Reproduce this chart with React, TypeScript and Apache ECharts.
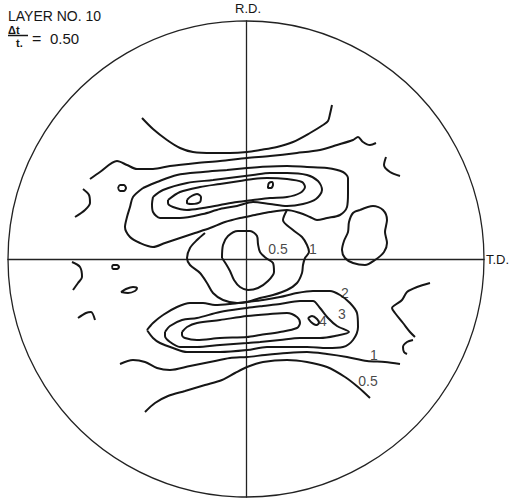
import React, { useEffect, useRef } from "react";
import * as echarts from "echarts";

// Pole-figure coordinates: centre of the projection = (0,0), rim radius = 238 units.
const R = 238;

// ---- upper half ----
const topArc05 = [[-104,141],[-93,130],[-79,119],[-66,111],[-53,107],[-33,106],[-16,106],[1,107],[14,109],[31,112],[47,117],[64,126],[77,134],[82,138],[84,145],[86,154]];
const upperOpen1 = [[-156,80],[-146,87],[-129,98],[-119,94],[-109,90],[-93,90],[-76,93],[-49,96],[-26,98],[1,101],[24,103],[51,106],[74,109],[91,114],[107,119],[112,122],[117,117],[124,114],[130,116]];
const upperRightArc = [[140,102],[138,94],[144,87],[154,83]];
const leftArc = [[-163,70],[-157,64],[-156,56],[-161,49],[-171,42]];
const leftRing = [[-128,71],[-126,74],[-122,74],[-120,71],[-122,68],[-126,68]];
const upperBand1 = [[-103,71],[-89,77],[-69,84],[-43,87],[-19,89],[1,91],[14,92],[41,93],[61,92],[81,91],[97,87],[102,81],[102,66],[101,52],[94,44],[81,41],[71,39],[64,42],[54,46],[41,49],[24,47],[9,44],[-6,41],[-21,37],[-36,31],[-51,26],[-66,21],[-81,16],[-93,12],[-106,16],[-116,22],[-121,32],[-119,42],[-116,52],[-113,62]];
const middle1 = [[41,49],[37,39],[47,29],[56,22],[61,14],[63,7],[59,1],[57,-6],[56,-14],[51,-24],[41,-31],[27,-36],[14,-39],[1,-43],[-9,-44],[-23,-41],[-33,-34],[-39,-24],[-46,-14],[-56,-6],[-59,1],[-56,11],[-49,19],[-41,26]];
const centre05 = [[-24,1],[-23,14],[-18,23],[-8,28],[4,28],[11,23],[12,15],[14,7],[20,1],[27,-4],[28,-13],[22,-22],[12,-29],[2,-31],[-6,-28],[-12,-21],[-16,-12],[-20,-5]];
const upperBand2 = [[-93,62],[-83,69],[-59,76],[-33,79],[-9,82],[7,84],[24,86],[41,86],[61,84],[72,78],[76,69],[70,60],[57,55],[41,53],[24,55],[7,57],[-9,53],[-26,50],[-43,45],[-66,41],[-86,41],[-93,47],[-94,55]];
const upperBand3 = [[-78,59],[-66,67],[-46,72],[-26,75],[-6,78],[7,80],[21,81],[41,80],[56,77],[59,72],[54,66],[41,62],[24,61],[7,59],[-9,57],[-26,54],[-43,51],[-59,49],[-73,52],[-78,56]];
const upperPeakLeft = [[-59,59],[-56,62],[-49,65],[-45,62],[-46,57],[-54,55],[-59,56]];
const upperPeakRight = [[22,73],[23,76],[26,77],[27,74],[25,71],[22,71]];
const rightLobe = [[114,49],[127,53],[137,49],[141,39],[139,27],[141,16],[138,7],[129,-1],[119,-6],[107,-4],[99,1],[96,9],[98,18],[102,27],[103,37],[107,46]];

// ---- lower half ----
const lowerBand2 = [[-99,-71],[-93,-64],[-83,-56],[-69,-48],[-56,-44],[-43,-44],[-31,-46],[-16,-45],[1,-43],[17,-41],[34,-38],[51,-34],[67,-32],[84,-32],[94,-36],[104,-44],[111,-54],[112,-68],[107,-81],[97,-88],[81,-89],[61,-88],[41,-88],[21,-88],[1,-91],[-26,-93],[-59,-93],[-73,-89],[-86,-84],[-93,-79]];
const lowerBand3 = [[-81,-73],[-76,-67],[-64,-61],[-49,-59],[-26,-53],[1,-49],[17,-47],[34,-45],[54,-42],[67,-42],[74,-49],[82,-59],[91,-67],[103,-73],[89,-77],[74,-79],[54,-79],[34,-81],[14,-83],[1,-84],[-26,-86],[-49,-88],[-66,-88],[-76,-83],[-81,-77]];
const lowerBand4 = [[-64,-73],[-59,-68],[-49,-64],[-26,-61],[1,-57],[24,-55],[41,-54],[51,-58],[54,-64],[51,-69],[34,-73],[14,-76],[1,-78],[-26,-79],[-49,-81],[-61,-79],[-64,-76]];
const lowerPeak = [[62,-59],[66,-57],[71,-60],[73,-64],[70,-66],[65,-63]];
const lowerOpen1 = [[-126,-105],[-113,-101],[-101,-103],[-89,-109],[-76,-111],[-56,-107],[-36,-103],[-16,-99],[1,-98],[19,-96],[41,-94],[61,-93],[81,-95],[101,-98],[121,-102],[139,-103],[154,-105]];
const lowerOpen05 = [[-101,-153],[-91,-144],[-78,-137],[-61,-132],[-41,-126],[-24,-121],[-11,-114],[1,-108],[17,-103],[41,-101],[61,-103],[81,-108],[99,-118],[112,-128],[124,-139]];
const rightSquiggle = [[184,-24],[171,-28],[161,-33],[156,-41],[149,-46],[146,-49],[149,-54],[157,-64],[164,-73],[169,-78]];
const rightHook = [[167,-81],[161,-83],[157,-88],[158,-93],[161,-95]];
const leftArcLow = [[-174,-3],[-166,-8],[-164,-18],[-168,-24],[-173,-31]];
const leftRingLow = [[-134,-8],[-133,-6],[-129,-6],[-127,-8],[-129,-10],[-133,-10]];
const leftBlobLow = [[-125,-33],[-120,-30],[-113,-28],[-109,-29],[-111,-32],[-118,-34]];
const leftSquiggleLow = [[-168,-59],[-160,-54],[-155,-53],[-151,-61]];

// contour level labels: [x, y, text]
const levelLabels: [number, number, string][] = [
  [32, 10, "0.5"], [67, 10, "1"], [99, -34, "2"], [96, -55, "3"], [77, -62, "4"], [128, -96, "1"], [122, -122, "0.5"],
];

const openCurves = [topArc05, upperOpen1, upperRightArc, leftArc, middle1, lowerOpen1, lowerOpen05, rightSquiggle, rightHook, leftArcLow, leftSquiggleLow];
const closedCurves = [leftRing, upperBand1, centre05, upperBand2, upperBand3, upperPeakLeft, upperPeakRight, rightLobe, lowerBand2, lowerBand3, lowerBand4, lowerPeak, leftRingLow, leftBlobLow];

export default function App() {
  const ref = useRef<HTMLDivElement>(null);
  useEffect(() => {
    const chart = echarts.init(ref.current!, null, { renderer: "svg" });
    const ink = "#161616";
    const mk = (d: number[][], closed: boolean) => ({
      type: "line",
      data: closed ? [...d, d[0]] : d,
      symbol: "none",
      showSymbol: false,
      smooth: 0.3,
      silent: true,
      color: ink,
      lineStyle: { color: ink, width: 2 },
    });
    const axisCommon = {
      type: "value",
      min: -R,
      max: R,
      axisLine: { show: true, onZero: true, lineStyle: { color: "#222", width: 1.3 } },
      axisTick: { show: false },
      axisLabel: { show: false },
      splitLine: { show: false },
    };
    const font = "'Liberation Sans', Arial, sans-serif";
    chart.setOption({
      animation: false,
      color: [ink],
      grid: { left: 8, top: 21, width: 476, height: 476 },
      xAxis: axisCommon,
      yAxis: axisCommon,
      series: [
        ...openCurves.map((d) => mk(d, false)),
        ...closedCurves.map((d) => mk(d, true)),
        {
          type: "scatter",
          data: levelLabels,
          symbolSize: 0.1,
          silent: true,
          color: ink,
          itemStyle: { color: ink },
          label: {
            show: true,
            position: "inside",
            formatter: (p: any) => p.data[2],
            color: ink,
            textBorderWidth: 0,
            fontSize: 14,
            fontFamily: font,
          },
        },
      ],
      graphic: [
        { type: "circle", shape: { cx: 246, cy: 259, r: 238 }, style: { fill: "none", stroke: "#222", lineWidth: 1.3 }, silent: true },
        { type: "text", left: 8, top: 9, style: { text: "LAYER NO. 10", font: `14px ${font}`, fill: ink } },
        { type: "text", left: 8, top: 24, style: { text: "Δt", font: `bold 11px ${font}`, fill: ink } },
        { type: "line", shape: { x1: 8, y1: 35.5, x2: 28, y2: 35.5 }, style: { stroke: ink, lineWidth: 1.5 } },
        { type: "text", left: 16, top: 37, style: { text: "t.", font: `bold 11px ${font}`, fill: ink } },
        { type: "text", left: 32, top: 30, style: { text: "=", font: `16px ${font}`, fill: ink } },
        { type: "text", left: 50, top: 31, style: { text: "0.50", font: `15px ${font}`, fill: ink } },
        { type: "text", left: 235, top: 2, style: { text: "R.D.", font: `13px ${font}`, fill: ink } },
        { type: "text", left: 486, top: 253, style: { text: "T.D.", font: `13px ${font}`, fill: ink } },
      ],
    });
    return () => chart.dispose();
  }, []);
  return <div ref={ref} style={{ position: "absolute", left: 0, top: 0, width: 511, height: 499, background: "#fff" }} />;
}
